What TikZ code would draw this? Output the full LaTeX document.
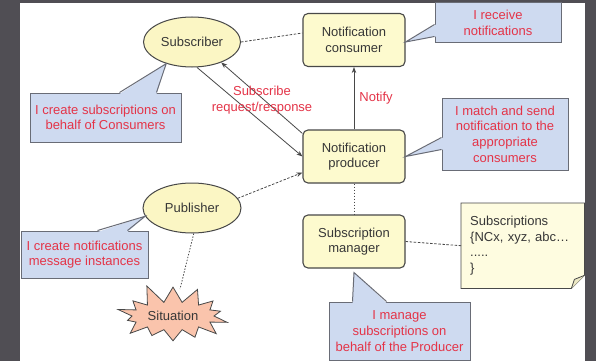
\documentclass[tikz,border=0pt]{standalone}
\usepackage{fontspec}
\setmainfont{Liberation Sans}
\usetikzlibrary{shapes.geometric,shapes.symbols,arrows.meta,calc}

\definecolor{framegray}{RGB}{80,78,84}
\definecolor{linegray}{RGB}{72,72,72}
\definecolor{textgray}{RGB}{55,55,55}
\definecolor{ellipsefill}{RGB}{251,246,196}
\definecolor{boxfill}{RGB}{253,250,206}
\definecolor{notefill}{RGB}{254,252,224}
\definecolor{foldfill}{RGB}{236,232,196}
\definecolor{calloutfill}{RGB}{206,218,240}
\definecolor{calloutline}{RGB}{105,108,118}
\definecolor{remarkred}{RGB}{228,52,72}
\definecolor{burstfill}{RGB}{250,196,172}

\tikzset{
  actor/.style={ellipse, draw=linegray, line width=1pt, fill=ellipsefill,
    text=textgray, minimum width=97pt, minimum height=50pt, inner sep=0pt},
  service/.style={rectangle, rounded corners=5pt, draw=linegray, line width=1.1pt,
    fill=boxfill, text=textgray, minimum width=102pt, minimum height=53pt,
    align=center, inner sep=0pt},
  remark/.style={rectangle, draw=calloutline, line width=1pt, fill=calloutfill,
    text=remarkred, align=center, inner sep=0pt},
  remarkedge/.style={draw=calloutline, line width=1pt, line join=miter},
  link/.style={draw=linegray, line width=0.8pt},
  tiplink/.style={link, -{Stealth[length=6pt,width=4.5pt]}},
  dashlink/.style={link, dash pattern=on 2.5pt off 1.6pt},
  dotlink/.style={link, dash pattern=on 1.4pt off 1.6pt},
  redlabel/.style={text=remarkred, align=center, inner sep=0pt},
}

\begin{document}
\begin{tikzpicture}[x=1pt, y=-1pt, font=\fontsize{13}{15.6}\selectfont]
  % frame and white sheet
  \fill[framegray] (0,0) rectangle (596,361);
  \fill[white] (20,3) rectangle (585,361);
  \useasboundingbox (0,0) rectangle (596,361);

  % roles
  \node[actor] (sub) at (192,42) {Subscriber};
  \node[actor, minimum width=98pt] (pub) at (192,208) {Publisher};
  \node[service] (cons) at (354,40) {Notification\\consumer};
  \node[service] (prod) at (354,156.5) {Notification\\producer};
  \node[service] (man) at (354,241.5) {Subscription\\manager};

  % situation burst
  \node[starburst, starburst points=14, starburst point height=20pt,
        random starburst=11, draw=linegray, line width=0.8pt, fill=burstfill,
        text=textgray, minimum width=122pt, minimum height=68pt, inner sep=0pt]
        (sit) at (173,316) {Situation};

  % subscription list note with folded corner
  \node[inner sep=0pt, minimum width=123pt, minimum height=85pt, anchor=north west]
        (note) at (461,203) {};
  \filldraw[draw=linegray, fill=notefill, line width=0.8pt]
    (note.north west) -- (note.north east) -- ([yshift=13pt]note.south east)
    -- ([xshift=-13pt]note.south east) -- (note.south west) -- cycle;
  \filldraw[draw=linegray, fill=foldfill, line width=0.8pt, line join=round]
    ([yshift=13pt]note.south east) -- ([xshift=-10pt,yshift=9pt]note.south east)
    -- ([xshift=-13pt]note.south east);
  \node[align=left, text=textgray, text width=105pt, inner sep=0pt,
        anchor=west] (notetext) at ([xshift=9pt]note.west)
        {Subscriptions\\\{NCx, xyz, abc…\\.....\\\}};

  % connectors
  \draw[dashlink] (sub.east) -- ([yshift=7pt]cons.west);
  \draw[tiplink] (sub.-79) -- (prod.west);
  \draw[tiplink] ([yshift=23pt]prod.west) -- (sub.-35);
  \node[redlabel] (subreq) at (262,100) {Subscribe\\request/response};
  \draw[tiplink] (prod.north) -- node[redlabel, right=5pt] (notify) {Notify} (cons.south);
  \draw[dotlink] (prod.south) -- (man.north);
  \draw[dashlink] (man.east) -- (note.west);
  \draw[dashlink, -{Stealth[length=6pt,width=4.5pt]}] (pub.12) -- ([yshift=-16pt]prod.west);
  \draw[dotlink] (pub.-86) -- ($(sit.center)+(7,-27)$);

  % callouts
  \node[remark, minimum width=151pt, minimum height=49pt] (c1) at (105.5,117.5)
    {I create subscriptions on\\behalf of Consumers};
  \fill[calloutfill] ($(c1.north west)+(90,1.5)$) -- (sub.220) -- ($(c1.north west)+(127,1.5)$) -- cycle;
  \draw[remarkedge] ($(c1.north west)+(90,0)$) -- (sub.220) -- ($(c1.north west)+(127,0)$);

  \node[remark, minimum width=126pt, minimum height=40pt] (c2) at (498,23)
    {I receive\\notifications};
  \fill[calloutfill] ($(c2.north west)+(1.5,22)$) -- ([yshift=-2pt]cons.east) -- ($(c2.north west)+(1.5,34)$) -- cycle;
  \draw[remarkedge] ($(c2.north west)+(0,22)$) -- ([yshift=-2pt]cons.east) -- ($(c2.north west)+(0,34)$);

  \node[remark, minimum width=126pt, minimum height=72pt] (c3) at (505,134)
    {I match and send\\notification to the\\appropriate\\consumers};
  \fill[calloutfill] ($(c3.north west)+(1.5,40)$) -- (prod.east) -- ($(c3.north west)+(1.5,52)$) -- cycle;
  \draw[remarkedge] ($(c3.north west)+(0,40)$) -- (prod.east) -- ($(c3.north west)+(0,52)$);

  \node[remark, minimum width=141pt, minimum height=58pt] (c4) at (399.5,331)
    {I manage\\subscriptions on\\behalf of the Producer};
  \fill[calloutfill] ($(c4.north west)+(24,1.5)$) -- ([yshift=-4pt]man.south) -- ($(c4.north west)+(58,1.5)$) -- cycle;
  \draw[remarkedge] ($(c4.north west)+(24,0)$) -- ([yshift=-4pt]man.south) -- ($(c4.north west)+(58,0)$);

  \node[remark, minimum width=127pt, minimum height=47pt] (c5) at (84.5,254.5)
    {I create notifications\\message instances};
  \fill[calloutfill] ($(c5.north west)+(77,1.5)$) -- (pub.190) -- ($(c5.north west)+(107,1.5)$) -- cycle;
  \draw[remarkedge] ($(c5.north west)+(77,0)$) -- (pub.190) -- ($(c5.north west)+(107,0)$);
\end{tikzpicture}
\end{document}
